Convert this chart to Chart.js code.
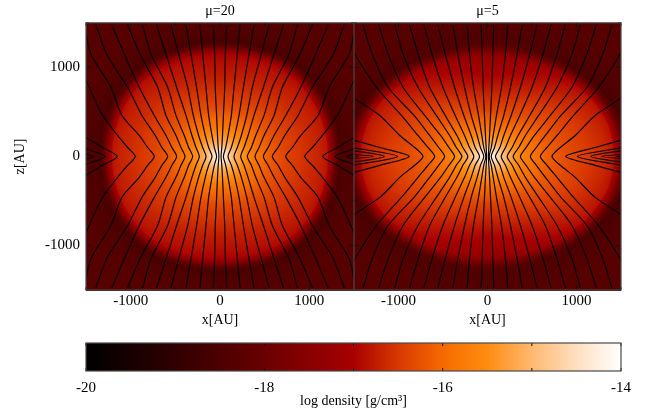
<!DOCTYPE html>
<html>
<head>
<meta charset="utf-8">
<script src="https://cdn.jsdelivr.net/npm/chart.js@4"></script>
<style>
  body { margin: 0; background: #fff; }
  canvas { position: absolute; }
</style>
</head>
<body>
<canvas id="left" width="360" height="330" style="left:0;top:0"></canvas>
<canvas id="right" width="295" height="330" style="left:354px;top:0"></canvas>
<canvas id="bar" width="649" height="83" style="left:0;top:330px"></canvas>
<script>
// radius of the cloud edge, per angle above the midplane (degrees, AU)
const edgeAngles = [0, 15, 30, 45, 60, 75, 90];
const edgeMu20 = [1250, 1250, 1250, 1250, 1230, 1200, 1190];
const edgeMu5 = [1480, 1450, 1375, 1285, 1215, 1175, 1165];

// log density read along rays, at fractions of the edge radius
const rayAngles = [0, 30, 60, 90];
const rayFractions = [0, 0.03, 0.06, 0.12, 0.2, 0.3, 0.45, 0.6, 0.75, 0.9, 0.96, 1.0, 1.04, 1.08, 1.15, 1.3];
const raysMu20 = [
  [-14, -14.2, -14.5, -15.0, -15.4, -15.8, -16.15, -16.4, -16.55, -16.7, -16.8, -17.4, -18.15, -18.55, -18.45, -18.35],
  [-14, -14.2, -14.5, -15.0, -15.4, -15.85, -16.2, -16.42, -16.6, -16.75, -16.85, -17.4, -18.15, -18.55, -18.45, -18.35],
  [-14, -14.2, -14.5, -15.05, -15.45, -15.85, -16.25, -16.5, -16.7, -16.85, -16.95, -17.45, -18.15, -18.55, -18.45, -18.35],
  [-14, -14.2, -14.5, -15.05, -15.45, -15.9, -16.3, -16.55, -16.75, -16.9, -17.0, -17.5, -18.15, -18.55, -18.45, -18.35]
];
const raysMu5 = [
  [-14, -14.15, -14.4, -14.9, -15.35, -15.75, -16.1, -16.3, -16.45, -16.65, -16.8, -17.4, -18.15, -18.55, -18.45, -18.35],
  [-14, -14.2, -14.45, -14.95, -15.4, -15.8, -16.15, -16.35, -16.55, -16.75, -16.85, -17.4, -18.15, -18.55, -18.45, -18.35],
  [-14, -14.2, -14.5, -15.05, -15.45, -15.9, -16.3, -16.55, -16.8, -17.0, -17.15, -17.55, -18.05, -18.45, -18.45, -18.35],
  [-14, -14.2, -14.55, -15.1, -15.5, -15.95, -16.4, -16.7, -16.95, -17.2, -17.35, -17.6, -18.0, -18.3, -18.45, -18.35]
];

// field lines: |x| at each height above the midplane, mirrored into the four quadrants
const lineHeights = [0, 100, 235, 460, 776, 1150, 1475];
const linesMu20 = [
  [12, 20, 28, 38, 53, 60, 75],
  [38, 64, 90, 127, 157, 194, 224],
  [90, 127, 165, 213, 262, 325, 381],
  [157, 194, 239, 299, 362, 463, 549],
  [232, 269, 314, 381, 486, 605, 710],
  [306, 351, 400, 493, 586, 773, 866],
  [392, 437, 493, 605, 698, 896, 1034],
  [486, 538, 605, 736, 904, 1072, 1210],
  [586, 650, 725, 874, 1034, 1270, 1389],
  [736, 810, 904, 1098, 1221, 1445, 1520],
  [948, 1034, 1146, 1314, 1464, 1613, 1725],
  [1150, 1314, 1538],
  [1288, 1540],
  [1420, 1900]
];
const linesMu5 = [
  [10, 15, 23, 34, 49, 60, 71],
  [19, 42, 64, 101, 157, 202, 228],
  [42, 79, 116, 183, 258, 333, 389],
  [90, 139, 183, 266, 370, 475, 557],
  [154, 202, 258, 363, 501, 624, 714],
  [221, 277, 344, 475, 650, 781, 874],
  [288, 351, 426, 575, 781, 949, 1042],
  [370, 434, 527, 706, 949, 1117, 1221],
  [482, 549, 650, 825, 1117, 1296, 1397],
  [594, 669, 781, 967, 1247, 1490, 1639],
  [725, 818, 986, 1210, 1677, 2050],
  [880, 1210, 1700],
  [1010, 1520],
  [1160, 1780],
  [1285, 3100]
];

const titles = ['μ=20', 'μ=5'];
const axisTicks = [-1000, 0, 1000];
const barLabels = [-20, -18, -16, -14];

// colour bar
const colourLevels = [-20, -19, -18, -17, -16.5, -16, -15.5, -15, -14.5, -14];
const colourRGB = [[0,0,0],[48,0,0],[106,0,0],[168,0,0],[216,56,0],[245,106,0],[255,140,16],[255,184,112],[255,223,192],[255,255,255]];

const serif = '"Liberation Serif", serif';
const frameColor = '#4a4a4a';

// position of v between neighbours of a sorted list
function locate(list, v) {
  let i = 0;
  while (i < list.length - 2 && v > list[i + 1]) i++;
  const t = (v - list[i]) / (list[i + 1] - list[i]);
  return [i, Math.min(1, Math.max(0, t))];
}

function colourOf(v) {
  const [i, t] = locate(colourLevels, v);
  return colourRGB[i].map((a, k) => Math.round(a + (colourRGB[i + 1][k] - a) * t));
}

function densityAt(x, z, edge, rays) {
  const r = Math.hypot(x, z);
  const deg = Math.atan2(Math.abs(z), Math.abs(x)) * 180 / Math.PI;
  const [e, et] = locate(edgeAngles, deg);
  const s = r / (edge[e] + (edge[e + 1] - edge[e]) * et);
  const [a, at] = locate(rayAngles, deg);
  const [f, ft] = locate(rayFractions, s);
  const lo = rays[a][f] + (rays[a][f + 1] - rays[a][f]) * ft;
  const hi = rays[a + 1][f] + (rays[a + 1][f + 1] - rays[a + 1][f]) * ft;
  return lo + (hi - lo) * at;
}

function lineDatasets(lines) {
  const sets = [];
  lines.forEach(xs => {
    [-1, 1].forEach(side => {
      const pts = [];
      for (let i = xs.length - 1; i > 0; i--) pts.push({ x: side * xs[i], y: lineHeights[i] });
      pts.push({ x: side * xs[0], y: 0 });
      for (let i = 1; i < xs.length; i++) pts.push({ x: side * xs[i], y: -lineHeights[i] });
      sets.push({ data: pts, showLine: true, pointRadius: 0, borderColor: '#0a0000', borderWidth: 1.2, tension: 0.25 });
    });
  });
  return sets;
}

function framePlugin(xTicks, yTicks) {
  return {
    id: 'frame',
    afterDatasetsDraw(chart) {
      const { ctx, chartArea: a, scales } = chart;
      ctx.save();
      ctx.strokeStyle = '#111';
      ctx.lineWidth = 1;
      ctx.beginPath();
      xTicks.forEach(t => {
        const len = t.big ? 5 : 3, p = scales.x.getPixelForValue(t.v);
        ctx.moveTo(p, a.top); ctx.lineTo(p, a.top + len);
        ctx.moveTo(p, a.bottom); ctx.lineTo(p, a.bottom - len);
      });
      yTicks.forEach(t => {
        const len = t.big ? 5 : 3, p = scales.y.getPixelForValue(t.v);
        ctx.moveTo(a.left, p); ctx.lineTo(a.left + len, p);
        ctx.moveTo(a.right, p); ctx.lineTo(a.right - len, p);
      });
      ctx.stroke();
      ctx.strokeStyle = frameColor;
      ctx.lineWidth = 1.2;
      ctx.strokeRect(a.left, a.top, a.right - a.left, a.bottom - a.top);
      ctx.restore();
    }
  };
}

function heatPlugin(edge, rays) {
  return {
    id: 'heat',
    beforeDatasetsDraw(chart) {
      const { ctx, chartArea: a, scales } = chart;
      const w = Math.ceil(a.right - a.left), h = Math.ceil(a.bottom - a.top);
      const img = document.createElement('canvas');
      img.width = w; img.height = h;
      const g = img.getContext('2d');
      const px = g.createImageData(w, h);
      for (let j = 0; j < h; j++) {
        const z = scales.y.getValueForPixel(a.top + j + 0.5);
        for (let i = 0; i < w; i++) {
          const x = scales.x.getValueForPixel(a.left + i + 0.5);
          const c = colourOf(densityAt(x, z, edge, rays));
          const k = (j * w + i) * 4;
          px.data[k] = c[0]; px.data[k + 1] = c[1]; px.data[k + 2] = c[2]; px.data[k + 3] = 255;
        }
      }
      g.putImageData(px, 0, 0);
      ctx.drawImage(img, a.left, a.top);
    }
  };
}

const panelTicks = [-1500, -1000, -500, 0, 500, 1000, 1500].map(v => ({ v: v, big: v % 1000 === 0 }));

function panel(id, edge, rays, lines, title, showY, padding) {
  new Chart(document.getElementById(id), {
    type: 'scatter',
    data: { datasets: lineDatasets(lines) },
    plugins: [heatPlugin(edge, rays), framePlugin(panelTicks, panelTicks)],
    options: {
      responsive: false,
      animation: false,
      layout: { padding: padding },
      plugins: {
        legend: { display: false },
        tooltip: { enabled: false },
        title: {
          display: true, text: title, color: '#000', fullSize: false,
          font: { family: serif, size: 14, weight: 'normal' },
          padding: { top: 3, bottom: 3 }
        }
      },
      scales: {
        x: {
          type: 'linear', min: -1500, max: 1500,
          afterBuildTicks: s => { s.ticks = axisTicks.map(v => ({ value: v })); },
          afterFit: s => { s.height = 39; },
          grid: { display: false, drawTicks: false },
          border: { display: false },
          ticks: { color: '#000', font: { family: serif, size: 15 }, padding: 2, maxRotation: 0, autoSkip: false, callback: v => String(v) },
          title: { display: true, text: 'x[AU]', color: '#000', font: { family: serif, size: 14 }, padding: { top: 0, bottom: 0 } }
        },
        y: {
          type: 'linear', min: -1500, max: 1500, display: showY,
          afterBuildTicks: s => { s.ticks = axisTicks.map(v => ({ value: v })); },
          afterFit: s => { s.width = showY ? 86 : 0; },
          grid: { display: false, drawTicks: false },
          border: { display: false },
          ticks: { color: '#000', font: { family: serif, size: 15 }, padding: 6, autoSkip: false, callback: v => String(v) },
          title: { display: true, text: 'z[AU]', color: '#000', font: { family: serif, size: 14 }, padding: { top: 12, bottom: 0 } }
        }
      }
    }
  });
}

panel('left', edgeMu20, raysMu20, linesMu20, titles[0], true, { left: 0, right: 6, top: 0, bottom: 1 });
panel('right', edgeMu5, raysMu5, linesMu5, titles[1], false, { left: 0, right: 28, top: 0, bottom: 1 });

// colour bar
const barPaint = {
  id: 'barPaint',
  beforeDatasetsDraw(chart) {
    const { ctx, chartArea: a, scales } = chart;
    const grad = ctx.createLinearGradient(a.left, 0, a.right, 0);
    colourLevels.forEach(v => {
      grad.addColorStop((scales.x.getPixelForValue(v) - a.left) / (a.right - a.left), 'rgb(' + colourOf(v).join(',') + ')');
    });
    ctx.fillStyle = grad;
    ctx.fillRect(a.left, a.top, a.right - a.left, a.bottom - a.top);
  }
};
const barTicks = [-20, -19, -18, -17, -16, -15, -14].map(v => ({ v: v, big: false }));

new Chart(document.getElementById('bar'), {
  type: 'scatter',
  data: { datasets: [{ data: [] }] },
  plugins: [barPaint, framePlugin(barTicks, [])],
  options: {
    responsive: false,
    animation: false,
    layout: { padding: { left: 86, right: 28, top: 13, bottom: 3 } },
    plugins: { legend: { display: false }, tooltip: { enabled: false } },
    scales: {
      x: {
        type: 'linear', min: -20, max: -14,
        afterBuildTicks: s => { s.ticks = barLabels.map(v => ({ value: v })); },
        afterFit: s => { s.height = 39; },
        grid: { display: false, drawTicks: false },
        border: { display: false },
        ticks: { color: '#000', font: { family: serif, size: 15 }, padding: 8, maxRotation: 0, autoSkip: false, callback: v => String(v) },
        title: { display: true, text: 'log density [g/cm³]', color: '#000', font: { family: serif, size: 14 }, padding: { top: 0, bottom: 0 } }
      },
      y: { type: 'linear', min: 0, max: 1, display: false }
    }
  }
});
</script>
</body>
</html>
